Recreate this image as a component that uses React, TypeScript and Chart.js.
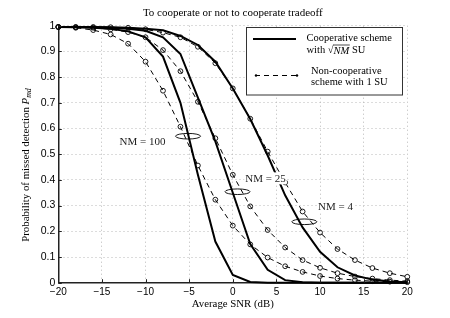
import React, { useEffect, useRef } from 'react';
import { Chart, registerables } from 'chart.js';

Chart.register(...registerables);

// ---- data ----
const snr = [-20, -18, -16, -14, -12, -10, -8, -6, -4, -2, 0, 2, 4, 6, 8, 10, 12, 14, 16, 18, 20];

const coopNM100 = [0.995, 0.994, 0.992, 0.988, 0.978, 0.955, 0.88, 0.7, 0.42, 0.16, 0.03, 0.003, 0, 0, 0, 0, 0, 0, 0, 0, 0];
const coopNM25 = [0.995, 0.995, 0.994, 0.992, 0.988, 0.98, 0.955, 0.89, 0.72, 0.55, 0.35, 0.15, 0.05, 0.01, 0.002, 0, 0, 0, 0, 0, 0];
const coopNM4 = [0.995, 0.995, 0.995, 0.994, 0.992, 0.988, 0.982, 0.96, 0.925, 0.86, 0.756, 0.637, 0.495, 0.34, 0.215, 0.12, 0.06, 0.028, 0.012, 0.005, 0.002];

const nonNM100 = [0.995, 0.992, 0.983, 0.966, 0.93, 0.86, 0.747, 0.607, 0.456, 0.323, 0.222, 0.149, 0.098, 0.064, 0.042, 0.026, 0.016, 0.01, 0.006, 0.004, 0.002];
const nonNM25 = [0.995, 0.994, 0.992, 0.986, 0.975, 0.955, 0.905, 0.823, 0.704, 0.562, 0.42, 0.297, 0.205, 0.137, 0.088, 0.058, 0.037, 0.024, 0.016, 0.01, 0.006];
const nonNM4 = [0.995, 0.995, 0.995, 0.994, 0.992, 0.986, 0.973, 0.955, 0.918, 0.854, 0.756, 0.638, 0.51, 0.39, 0.277, 0.195, 0.131, 0.088, 0.057, 0.037, 0.023];

const xTicks = [-20, -15, -10, -5, 0, 5, 10, 15, 20];
const yTicks = [0, 0.1, 0.2, 0.3, 0.4, 0.5, 0.6, 0.7, 0.8, 0.9, 1];

const titleText = 'To cooperate or not to cooperate tradeoff';
const xLabel = 'Average SNR (dB)';
const yLabel = 'Probability of missed detection ';

// annotation labels and anchor values (data units)
const annLabels = ['NM = 100', 'NM = 25', 'NM = 4'];
const annTextX = [-10.35, 3.75, 11.77];
const annTextY = [0.549, 0.406, 0.296];
const annEllX = [-5.13, 0.54, 8.2];
const annEllY = [0.57, 0.354, 0.237];

const SERIF = '"Liberation Serif", "DejaVu Serif", serif';
const SANS = '"Liberation Sans", Arial, sans-serif';

const pts = (arr: number[]) => snr.map((x, i) => ({ x, y: arr[i] }));

const fmtX = (v: number) => (v < 0 ? '\u2212' + Math.abs(v) : String(v));
const fmtY = (v: number) => {
  const r = Math.round(v * 10) / 10;
  if (r === 0) return '0';
  if (r === 1) return '1';
  return r.toFixed(1);
};

const overlay = {
  id: 'overlay',
  afterDatasetsDraw(chart: any) {
    const ctx = chart.ctx as CanvasRenderingContext2D;
    const xs = chart.scales.x;
    const ys = chart.scales.y;
    const area = chart.chartArea;
    ctx.save();
    // inward ticks
    ctx.strokeStyle = '#222';
    ctx.lineWidth = 1;
    ctx.beginPath();
    xTicks.forEach((t) => {
      const px = Math.round(xs.getPixelForValue(t)) + 0.5;
      ctx.moveTo(px, area.bottom);
      ctx.lineTo(px, area.bottom - 3.5);
    });
    yTicks.forEach((t) => {
      const py = Math.round(ys.getPixelForValue(t)) + 0.5;
      ctx.moveTo(area.left, py);
      ctx.lineTo(area.left + 3.5, py);
    });
    ctx.stroke();

    // annotations
    ctx.font = '11px ' + SERIF;
    ctx.textAlign = 'center';
    ctx.textBaseline = 'middle';
    annLabels.forEach((lab, i) => {
      const ex = xs.getPixelForValue(annEllX[i]);
      const ey = ys.getPixelForValue(annEllY[i]);
      ctx.beginPath();
      ctx.strokeStyle = '#000';
      ctx.lineWidth = 0.9;
      ctx.ellipse(ex, ey, 12.5, 2.8, 0, 0, Math.PI * 2);
      ctx.stroke();
      const tx = xs.getPixelForValue(annTextX[i]);
      const ty = ys.getPixelForValue(annTextY[i]);
      const w = ctx.measureText(lab).width;
      ctx.fillStyle = '#fff';
      ctx.fillRect(tx - w / 2 - 1, ty - 6, w + 2, 12);
      ctx.fillStyle = '#222';
      ctx.fillText(lab, tx, ty + 0.5);
    });
    ctx.restore();
  },
  afterDraw(chart: any) {
    const ctx = chart.ctx as CanvasRenderingContext2D;
    const area = chart.chartArea;
    ctx.save();
    ctx.fillStyle = '#000';
    ctx.textBaseline = 'middle';
    ctx.textAlign = 'center';
    ctx.font = '11px ' + SERIF;
    const cx = (area.left + area.right) / 2;
    ctx.fillText(titleText, cx, 13);
    ctx.font = '10.8px ' + SERIF;
    ctx.fillText(xLabel, cx, 304.5);

    // y label rotated
    ctx.save();
    ctx.translate(26, 165);
    ctx.rotate(-Math.PI / 2);
    ctx.font = '10.8px ' + SERIF;
    const w1 = ctx.measureText(yLabel).width;
    ctx.font = 'italic 10.8px ' + SERIF;
    const wP = ctx.measureText('P').width;
    ctx.font = 'italic 7.8px ' + SERIF;
    const wmd = ctx.measureText('md').width;
    const total = w1 + wP + wmd;
    let x0 = -total / 2;
    ctx.textAlign = 'left';
    ctx.font = '10.8px ' + SERIF;
    ctx.fillText(yLabel, x0, 0);
    x0 += w1;
    ctx.font = 'italic 10.8px ' + SERIF;
    ctx.fillText('P', x0, 0);
    x0 += wP;
    ctx.font = 'italic 7.8px ' + SERIF;
    ctx.fillText('md', x0, 3);
    ctx.restore();

    // legend box
    const lx = 246.5, ly = 27.5, lw = 156, lh = 67.5;
    ctx.fillStyle = '#fff';
    ctx.fillRect(lx, ly, lw, lh);
    ctx.strokeStyle = '#333';
    ctx.lineWidth = 1;
    ctx.strokeRect(lx, ly, lw, lh);

    ctx.strokeStyle = '#000';
    ctx.lineWidth = 2;
    ctx.beginPath();
    ctx.moveTo(253, 39);
    ctx.lineTo(296, 39);
    ctx.stroke();

    ctx.lineWidth = 1;
    ctx.setLineDash([5, 4]);
    ctx.beginPath();
    ctx.moveTo(255, 75.5);
    ctx.lineTo(298, 75.5);
    ctx.stroke();
    ctx.setLineDash([]);
    ctx.fillStyle = '#000';
    [256, 297].forEach((px) => {
      ctx.beginPath();
      ctx.arc(px, 75.5, 1.2, 0, Math.PI * 2);
      ctx.fill();
    });

    ctx.textAlign = 'left';
    ctx.fillStyle = '#000';
    ctx.font = '10.5px ' + SERIF;
    ctx.fillText('Cooperative scheme', 306.5, 38.5);
    // with sqrt(NM) SU
    let sx = 306.5;
    const sy = 50.5;
    ctx.fillText('with ', sx, sy);
    sx += ctx.measureText('with ').width;
    ctx.fillText('\u221A', sx, sy);
    sx += ctx.measureText('\u221A').width;
    ctx.font = 'italic 10.5px ' + SERIF;
    const nmw = ctx.measureText('NM').width;
    ctx.fillText('NM', sx, sy + 0.5);
    ctx.lineWidth = 0.7;
    ctx.beginPath();
    ctx.moveTo(sx - 0.5, sy - 5.5);
    ctx.lineTo(sx + nmw + 0.5, sy - 5.5);
    ctx.stroke();
    sx += nmw;
    ctx.font = '10.5px ' + SERIF;
    ctx.fillText(' SU', sx, sy);

    ctx.fillText('Non-cooperative', 311, 71.5);
    ctx.fillText('scheme with 1 SU', 311, 82);
    ctx.restore();
  },
};

const solid = (arr: number[]) => ({
  data: pts(arr),
  borderColor: '#000',
  borderWidth: 2,
  pointRadius: 0,
  fill: false,
  tension: 0,
  clip: false as const,
});

const dashed = (arr: number[]) => ({
  data: pts(arr),
  borderColor: '#000',
  borderWidth: 1,
  borderDash: [5, 4],
  pointRadius: 2.4,
  pointStyle: 'circle',
  pointBorderColor: '#000',
  pointBackgroundColor: 'rgba(0,0,0,0)',
  pointBorderWidth: 0.9,
  fill: false,
  tension: 0,
  clip: false as const,
});

export default function App() {
  const ref = useRef<HTMLCanvasElement | null>(null);
  useEffect(() => {
    if (!ref.current) return;
    const chart = new Chart(ref.current, {
      type: 'line',
      data: {
        datasets: [
          dashed(nonNM100),
          dashed(nonNM25),
          dashed(nonNM4),
          solid(coopNM100),
          solid(coopNM25),
          solid(coopNM4),
        ] as any,
      },
      options: {
        animation: false,
        responsive: false,
        devicePixelRatio: 1,
        layout: { padding: { top: 25.7, right: 42.7, left: 0, bottom: 0 } },
        plugins: { legend: { display: false }, tooltip: { enabled: false }, title: { display: false } },
        scales: {
          x: {
            type: 'linear',
            min: -20,
            max: 20,
            afterBuildTicks: (s: any) => {
              s.ticks = xTicks.map((v) => ({ value: v }));
            },
            ticks: { font: { family: SANS, size: 10 }, color: '#000', padding: 4, maxRotation: 0, autoSkip: false, callback: (v: any) => fmtX(Number(v)) },
            grid: { color: '#b8b8b8', lineWidth: 1, drawTicks: false },
            border: { display: true, color: '#222', width: 1.5, dash: [1, 3] },
            afterFit: (s: any) => {
              s.height = 35.3;
              s.paddingLeft = 0;
              s.paddingRight = 0;
            },
          },
          y: {
            type: 'linear',
            min: 0,
            max: 1,
            afterBuildTicks: (s: any) => {
              s.ticks = yTicks.map((v) => ({ value: v }));
            },
            ticks: { font: { family: SANS, size: 10.5 }, color: '#000', padding: 3, autoSkip: false, callback: (v: any) => fmtY(Number(v)) },
            grid: { color: '#b8b8b8', lineWidth: 1, drawTicks: false },
            border: { display: true, color: '#222', width: 1.5, dash: [1, 3] },
            afterFit: (s: any) => {
              s.width = 58.3;
              s.paddingTop = 0;
              s.paddingBottom = 0;
            },
          },
        },
      },
      plugins: [overlay],
    } as any);
    return () => chart.destroy();
  }, []);
  return (
    <div style={{ position: 'fixed', left: 0, top: 0, width: 450, height: 318, background: '#fff' }}>
      <canvas ref={ref} width={450} height={318} style={{ width: 450, height: 318, display: 'block' }} />
    </div>
  );
}
